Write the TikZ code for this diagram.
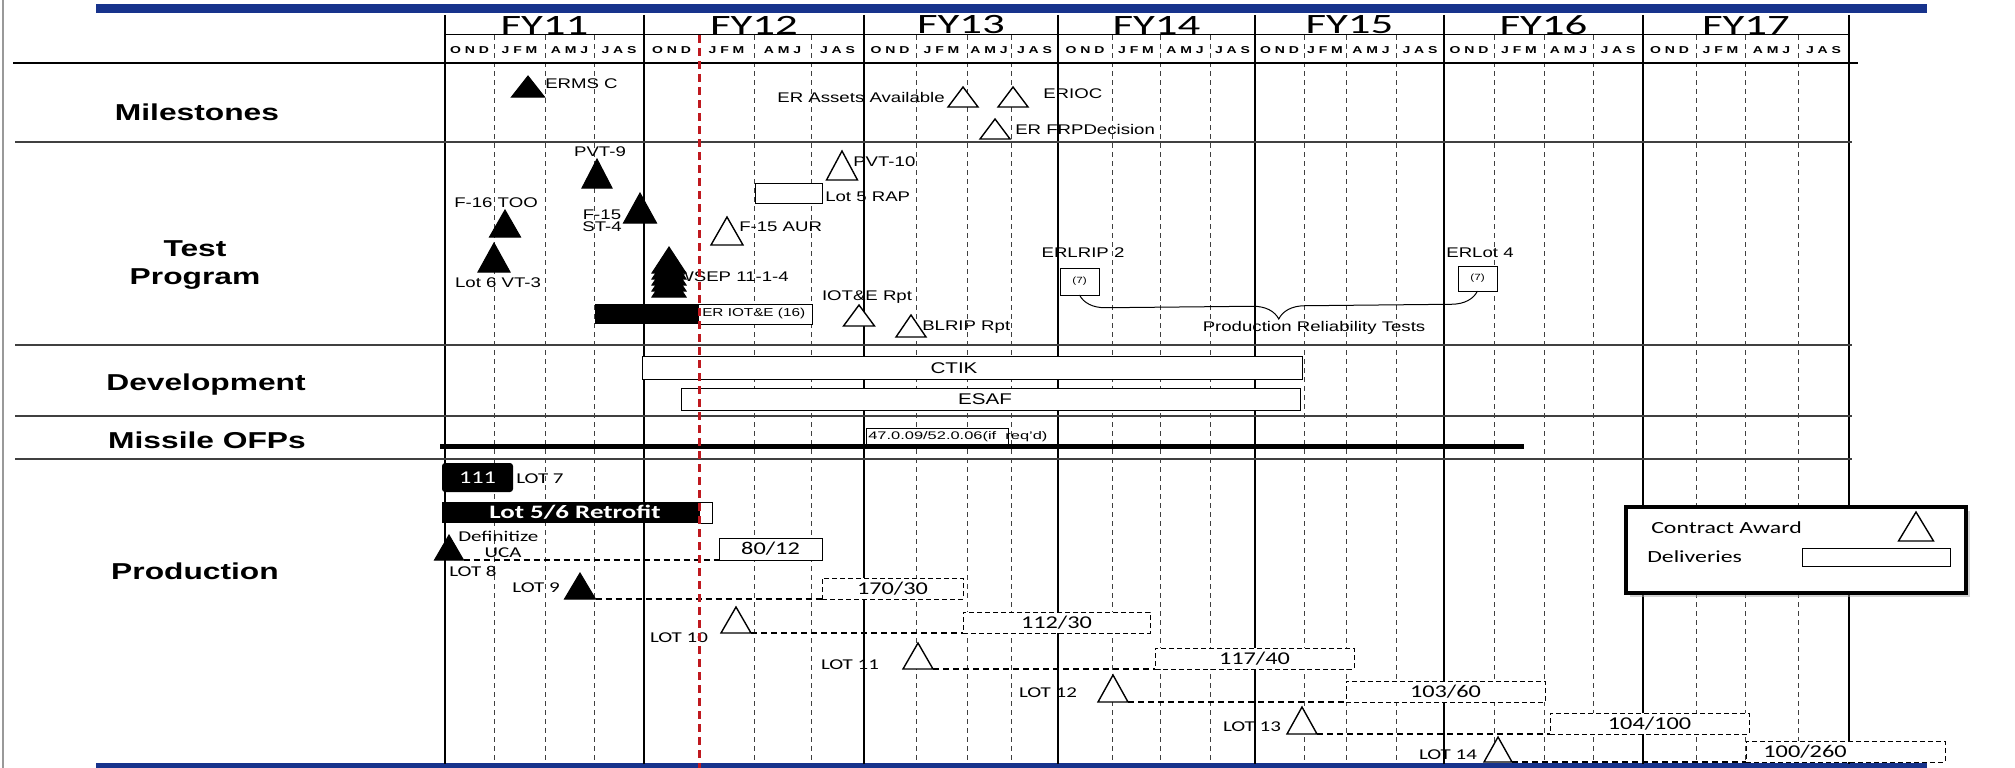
\documentclass[tikz,border=0pt]{standalone}
\usepackage{fontspec}
\setmainfont{Liberation Sans}
\newfontfamily\calfont{Carlito}
\usetikzlibrary{decorations.pathreplacing,shadows}
\definecolor{BarClr}{rgb}{0.09,0.2,0.55}
\definecolor{TodayClr}{rgb}{0.75,0.1,0.12}
\definecolor{GridClr}{rgb}{0.25,0.25,0.25}
\definecolor{FrameClr}{rgb}{0.6,0.6,0.6}

\begin{document}
\begin{tikzpicture}[x=1pt,y=-1pt,
  lbl/.style={font=\fontsize{14}{14}\selectfont, inner sep=0pt, xscale=1.33},
  small/.style={font=\fontsize{11.5}{12}\selectfont, inner sep=0pt, xscale=1.33},
  tiny/.style={font=\fontsize{9}{9}\selectfont, inner sep=0pt, xscale=1.3},
  barlbl/.style={font=\fontsize{15.5}{16}\selectfont, inner sep=0pt, xscale=1.33},
  rowlbl/.style={font=\bfseries\fontsize{23}{28}\selectfont, inner sep=0pt, xscale=1.38, align=center},
  fylbl/.style={font=\calfont\fontsize{28}{28}\selectfont, inner sep=0pt, xscale=1.6},
  qlbl/.style={font=\bfseries\fontsize{10}{10}\selectfont, inner sep=0pt, xscale=1.4},
  lotlbl/.style={font=\calfont\fontsize{15}{15}\selectfont, inner sep=0pt, xscale=1.4},
  numlbl/.style={font=\calfont\fontsize{18}{18}\selectfont, inner sep=0pt, xscale=1.35},
  keylbl/.style={font=\calfont\fontsize{17}{17}\selectfont, inner sep=0pt, xscale=1.4},
  fyline/.style={line width=1.3pt, black},
  qline/.style={line width=0.9pt, GridClr, dash pattern=on 5pt off 4pt},
  sepline/.style={line width=1.5pt, GridClr},
  boxed/.style={draw, fill=white, line width=1pt, inner sep=0pt, outer sep=0pt},
  solidbar/.style={fill=black, inner sep=0pt, outer sep=0pt},
  delivbox/.style={boxed, dash pattern=on 5pt off 3pt},
  lotline/.style={line width=1.2pt, dash pattern=on 6pt off 4pt},
  awardopen/.style={draw=black, fill=white, line width=1.4pt},
  awarddone/.style={draw=black, fill=black, line width=1pt},
  pics/tri/.style n args={3}{code={
    \draw[#1] (-#2/2,0) -- (0,-#3) -- (#2/2,0) -- cycle;
    \coordinate (-r) at (#2/2,0);}}]
\useasboundingbox (0,0) rectangle (2015,768);

% frame and title bars
\draw[FrameClr, line width=2pt] (3,0) -- (3,768);
\fill[BarClr] (96,4) rectangle (1927,13);
\fill[BarClr] (96,763) rectangle (1927,768);

% calendar grid
\foreach \x in {494,545,594,754,811,916,967,1011,1112,1160,1210,1304,1346,1396,1494,1544,1593,1696,1745,1798}
  \draw[qline] (\x,35) -- (\x,764);
\foreach \x in {445,644,864,1058,1255,1444,1643,1849}
  \draw[fyline] (\x,15) -- (\x,764);
\draw[line width=1pt] (445,35) -- (1849,35);
\draw[line width=2.5pt] (13,63) -- (1858,63);
\foreach \y in {142,345,416,459}
  \draw[sepline] (15,\y) -- (1852,\y);

\foreach \a/\b/\n in {445/644/11,644/864/12,864/1058/13,1058/1255/14,1255/1444/15,1444/1643/16,1643/1849/17}
  \node[fylbl] (fy\n) at ({(\a+\b)/2},25) {FY\n};
\foreach \a/\b/\q in {445/494/O N D,494/545/J F M,545/594/A M J,594/644/J A S,
    644/699/O N D,699/754/J F M,754/811/A M J,811/864/J A S,
    864/916/O N D,916/967/J F M,967/1011/A M J,1011/1058/J A S,
    1058/1112/O N D,1112/1160/J F M,1160/1210/A M J,1210/1255/J A S,
    1255/1304/O N D,1304/1346/J F M,1346/1396/A M J,1396/1444/J A S,
    1444/1494/O N D,1494/1544/J F M,1544/1593/A M J,1593/1643/J A S,
    1643/1696/O N D,1696/1745/J F M,1745/1798/A M J,1798/1849/J A S}
  \node[qlbl] (q\a) at ({(\a+\b)/2},50) {\q};

% row titles
\node[rowlbl] (rmile) at (197,112) {Milestones};
\node[rowlbl] (rtest) at (195,265) {Test\\Program};
\node[rowlbl] (rdev) at (206,385) {Development};
\node[rowlbl] (rofp) at (207,440) {Missile OFPs};
\node[rowlbl] (rprod) at (195,571) {Production};

% milestones
\pic (msc) at (528,97) {tri={awarddone}{33}{21}};
\node[lbl, anchor=west] (msctxt) at (545,84) {ERMS C};
\node[lbl, anchor=east] (assets) at (945,97) {ER Assets Available};
\pic (assettri) at (963,107) {tri={awardopen}{30}{20}};
\pic (ioctri) at (1013,107) {tri={awardopen}{30}{20}};
\node[lbl, anchor=west] (ioc) at (1043,94) {ERIOC};
\pic (frptri) at (995,139) {tri={awardopen}{30}{20}};
\node[lbl, anchor=west] (frp) at (1015,129) {ER FRPDecision};

% test program
\node[lbl] (pvt9) at (600,152) {PVT-9};
\pic (pvt9tri) at (597,188) {tri={awarddone}{30}{29}};
\node[lbl] (too) at (496,203) {F-16 TOO};
\pic (tootri) at (505,237) {tri={awarddone}{31}{27}};
\pic (vt3tri) at (494,272) {tri={awarddone}{32}{29}};
\node[lbl] (vt3) at (498,283) {Lot 6 VT-3};
\node[lbl, font=\fontsize{14}{12}\selectfont, align=center] (st4) at (602,221) {F-15\\ST-4};
\pic (st4tri) at (640,223) {tri={awarddone}{33}{30}};
\node[lbl, anchor=west] (wsep) at (676,277) {WSEP 11-1-4};
\foreach \b in {273,279,285,291,297}
  \pic at (669,\b) {tri={awarddone}{34}{26}};
\node[solidbar, minimum width=103pt, minimum height=20pt] (iotdone) at (646.5,314) {};
\node[boxed, minimum width=114pt, minimum height=20pt] (iotrest) at (755,314) {};
\node[small, anchor=west] (iottxt) at (702,314) {ER IOT\&E (16)};
\node[boxed, minimum width=67pt, minimum height=20pt] (rap) at (788.5,193) {};
\node[lbl, anchor=west] (raptxt) at (825,197) {Lot 5 RAP};
\pic (pvt10tri) at (842,180) {tri={awardopen}{31}{29}};
\node[lbl, anchor=west] (pvt10) at (853,162) {PVT-10};
\pic (aurtri) at (727,245) {tri={awardopen}{32}{28}};
\node[lbl, anchor=west] (aur) at (739,227) {F-15 AUR};
\node[lbl] (iotrpt) at (867,297) {IOT\&E Rpt};
\pic (iotrpttri) at (859,326) {tri={awardopen}{31}{21}};
\pic (blriptri) at (911,337) {tri={awardopen}{30}{22}};
\node[lbl, anchor=west] (blrip) at (922,327) {BLRIP Rpt};
\node[lbl] (lrip2) at (1083,253) {ERLRIP 2};
\node[boxed, minimum width=39pt, minimum height=27pt] (lrip7) at (1079.5,281.5) {};
\node[tiny] (lrip7txt) at (lrip7) {(7)};
\node[lbl] (lot4) at (1480,253) {ERLot 4};
\node[boxed, minimum width=39pt, minimum height=25pt] (lot47) at (1477.5,278.5) {};
\node[tiny] (lot47txt) at (lot47) {(7)};
\draw[line width=1pt, decorate, decoration={brace, mirror, amplitude=26pt}]
  (lrip7.south) -- (lot47.south);
\node[lbl] (prt) at (1314,328) {Production Reliability Tests};

% development
\node[boxed, minimum width=660pt, minimum height=23pt] (ctik) at (972,367.5) {};
\node[barlbl] (ctiktxt) at (954,368) {CTIK};
\node[boxed, minimum width=619pt, minimum height=22pt] (esaf) at (990.5,399) {};
\node[barlbl] (esaftxt) at (985,399) {ESAF};

% missile OFPs
\node[boxed, line width=0.8pt, minimum width=142pt, minimum height=16pt] (ofpbox) at (937,436) {};
\node[tiny, anchor=west, font=\fontsize{11}{11}\selectfont, xscale=1.15] (ofptxt) at (868,437) {47.0.09/52.0.06(if~~req'd)};
\coordinate (ofpL) at (440,446);
\coordinate (ofpR) at (1524,446);
\draw[line width=5pt] (ofpL) -- (ofpR);

% production
\node[solidbar, rounded corners=3pt, minimum width=71pt, minimum height=29pt] (lot7) at (477.5,477.5) {};
\node[numlbl, text=white] (lot7txt) at (lot7) {111};
\node[lotlbl, anchor=west] (lot7lbl) at (516,479) {LOT 7};
\node[solidbar, minimum width=257pt, minimum height=21pt] (retro) at (570.5,512.5) {};
\node[boxed, minimum width=13pt, minimum height=21pt] (retroend) at (705.5,512.5) {};
\node[numlbl, font=\calfont\bfseries\fontsize{19}{19}\selectfont, xscale=1.05, text=white] (retrotxt) at (575,512) {Lot 5/6 Retrofit};

\pic (lot8) at (449,560) {tri={awarddone}{29}{25}};
\node[lotlbl, anchor=west] (defn) at (458,536) {Definitize};
\node[lotlbl] (uca) at (503,553) {UCA};
\node[lotlbl, anchor=west] (lot8lbl) at (449,571) {LOT 8};
\node[boxed, minimum width=103pt, minimum height=22pt] (d8) at (770.5,549) {};
\node[numlbl] (d8txt) at (d8) {80/12};
\draw[lotline] (lot8-r) -- (d8.south west);

\node[lotlbl, anchor=east] (lot9lbl) at (560,588) {LOT 9};
\pic (lot9) at (580,599) {tri={awarddone}{31}{26}};
\node[delivbox, minimum width=141pt, minimum height=21pt] (d9) at (892.5,588.5) {};
\node[numlbl] (d9txt) at (d9) {170/30};
\draw[lotline] (lot9-r) -- (d9.south west);

\node[lotlbl] (lot10lbl) at (679,638) {LOT 10};
\pic (lot10) at (736,633) {tri={awardopen}{30}{26}};
\node[delivbox, minimum width=187pt, minimum height=21pt] (d10) at (1056.5,622.5) {};
\node[numlbl] (d10txt) at (d10) {112/30};
\draw[lotline] (lot10-r) -- (d10.south west);

\node[lotlbl] (lot11lbl) at (850,665) {LOT 11};
\pic (lot11) at (918,669) {tri={awardopen}{30}{26}};
\node[delivbox, minimum width=199pt, minimum height=21pt] (d11) at (1254.5,658.5) {};
\node[numlbl] (d11txt) at (d11) {117/40};
\draw[lotline] (lot11-r) -- (d11.south west);

\node[lotlbl] (lot12lbl) at (1048,693) {LOT 12};
\pic (lot12) at (1113,702) {tri={awardopen}{30}{27}};
\node[delivbox, minimum width=199pt, minimum height=21pt] (d12) at (1445.5,691.5) {};
\node[numlbl] (d12txt) at (d12) {103/60};
\draw[lotline] (lot12-r) -- (d12.south west);

\node[lotlbl] (lot13lbl) at (1252,727) {LOT 13};
\pic (lot13) at (1302,734) {tri={awardopen}{30}{27}};
\node[delivbox, minimum width=199pt, minimum height=21pt] (d13) at (1649.5,723.5) {};
\node[numlbl] (d13txt) at (d13) {104/100};
\draw[lotline] (lot13-r) -- (d13.south west);

\node[lotlbl] (lot14lbl) at (1448,755) {LOT 14};
\pic (lot14) at (1498,762) {tri={awardopen}{28}{25}};
\node[delivbox, minimum width=199pt, minimum height=21pt] (d14) at (1845.5,751.5) {};
\node[numlbl] (d14txt) at (1805,751.5) {100/260};
\draw[lotline] (lot14-r) -- (d14.south west);

% today line
\draw[TodayClr, line width=3pt, dash pattern=on 8pt off 5pt] (699,35) -- (699,768);

% legend
\node[boxed, line width=4pt, minimum width=340pt, minimum height=86pt,
  drop shadow={shadow xshift=4pt, shadow yshift=-4pt, fill=black!35}] (key) at (1796,550) {};
\node[keylbl, anchor=west] (keyaward) at (1651,528) {Contract Award};
\pic (keytri) at (1916,541) {tri={awardopen}{35}{29}};
\node[keylbl, anchor=west] (keydeliv) at (1647,557) {Deliveries};
\node[boxed, minimum width=148pt, minimum height=18pt] (keybox) at (1876,557) {};
\end{tikzpicture}
\end{document}
